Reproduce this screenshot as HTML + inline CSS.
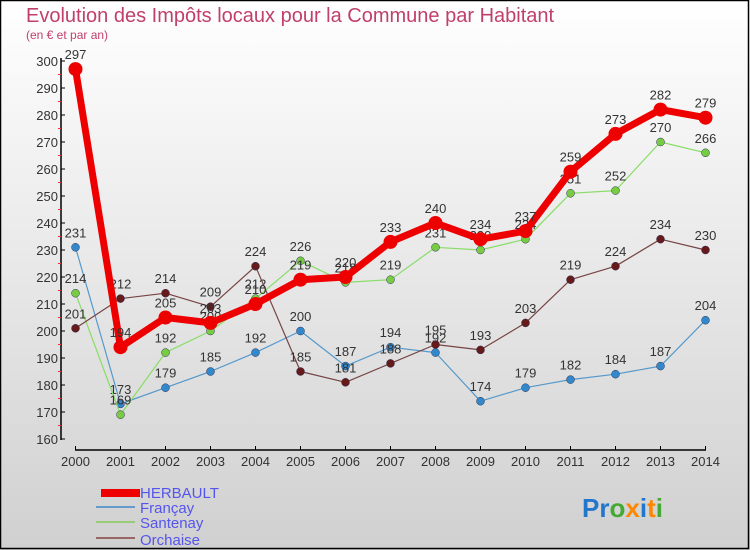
<!DOCTYPE html>
<html><head><meta charset="utf-8"><style>
body{margin:0}
#c{width:750px;height:550px;position:relative;overflow:hidden;background:linear-gradient(#ffffff,#d0d0d0);font-family:"Liberation Sans",sans-serif}
svg{position:absolute;left:0;top:0}
</style></head><body>
<div id="c">
<svg id="s" width="750" height="550">
<rect x="0.5" y="0.5" width="748" height="548" fill="none" stroke="#000" stroke-width="1.5"/>
<text x="26" y="22" font-size="20" fill="#c0406a">Evolution des Impôts locaux pour la Commune par Habitant</text>
<text x="26" y="39" font-size="12" fill="#c0406a">(en € et par an)</text>
<g id="axes"></g><g id="series"></g>
<g>
<rect x="101" y="489" width="39" height="8" fill="#ee0000"/>
<text x="140" y="498" font-size="15" fill="#5555ee">HERBAULT</text>
<line x1="96" y1="507" x2="135" y2="507" stroke="#6699cc" stroke-width="2"/>
<text x="140" y="513" font-size="15" fill="#5555ee">Françay</text>
<line x1="96" y1="522" x2="135" y2="522" stroke="#99cc77" stroke-width="2"/>
<text x="140" y="528" font-size="15" fill="#5555ee">Santenay</text>
<line x1="96" y1="538" x2="135" y2="538" stroke="#996666" stroke-width="2"/>
<text x="140" y="545" font-size="15" fill="#5555ee">Orchaise</text>
</g>
<g font-size="26" font-weight="bold">
<text x="582" y="517"><tspan fill="#2277cc">Pr</tspan><tspan fill="#44aa33">o</tspan><tspan fill="#ff8800">x</tspan><tspan fill="#2277cc">i</tspan><tspan fill="#ff8800">t</tspan><tspan fill="#44aa33">i</tspan></text>
</g>
</svg></div>
<script>
const years=["2000","2001","2002","2003","2004","2005","2006","2007","2008","2009","2010","2011","2012","2013","2014"];
const herbault=[297,194,205,203,210,219,220,233,240,234,237,259,273,282,279];
const francay=[231,173,179,185,192,200,187,194,192,174,179,182,184,187,204];
const santenay=[214,169,192,200,212,226,218,219,231,230,234,251,252,270,266];
const orchaise=[201,212,214,209,224,185,181,188,195,193,203,219,224,234,230];
const yTicks=[160,170,180,190,200,210,220,230,240,250,260,270,280,290,300];
const X=i=>75.5+i*45.0, Y=v=>61+(300-v)*2.7;
const NS="http://www.w3.org/2000/svg";
function mk(p,t,a){const e=document.createElementNS(NS,t);for(const k in a)e.setAttribute(k,a[k]);p.appendChild(e);return e;}
const ax=document.getElementById('axes');
let l=mk(ax,'line',{x1:61,y1:58,x2:61,y2:440,stroke:'#000','stroke-width':1.5});


l=mk(ax,'line',{x1:75,y1:450,x2:706,y2:450,stroke:'#000','stroke-width':1.5});


yTicks.forEach((v,i)=>{
 mk(ax,'line',{x1:61,y1:Y(v),x2:65,y2:Y(v),stroke:'#000'});
 if(i<yTicks.length-1)mk(ax,'line',{x1:58,y1:Y(v+5),x2:61,y2:Y(v+5),stroke:'#e33'});
 const t=mk(ax,'text',{x:58,y:Y(v)+5,'font-size':13,fill:'#333','text-anchor':'end'});t.textContent=v;
 
 
});
years.forEach((y,i)=>{
 mk(ax,'line',{x1:X(i),y1:446,x2:X(i),y2:450,stroke:'#000'});
 const t=mk(ax,'text',{x:X(i),y:466,'font-size':13,fill:'#333','text-anchor':'middle'});t.textContent=y;
 
 
});
const sg=document.getElementById('series');
function draw(name,data,color,dot,w,r){
 const g=mk(sg,'g',{});
 
 
 mk(g,'polyline',{points:data.map((v,i)=>X(i)+','+Y(v)).join(' '),fill:'none',stroke:color,'stroke-width':w,'stroke-linejoin':'round'});
 data.forEach((v,i)=>{
  const c=mk(g,'circle',{cx:X(i),cy:Y(v),r:r,fill:dot,stroke:dot==='#ee0000'?'none':'#335','stroke-width':0.5});
  
  
  const t=mk(g,'text',{x:X(i),y:Y(v)-10,'font-size':13,fill:'#333','text-anchor':'middle'});t.textContent=v;
  
  
 });
}
draw('francay',francay,'#5599cc','#3388cc',1.2,4);
draw('santenay',santenay,'#88dd66','#77cc44',1.2,4);
draw('orchaise',orchaise,'#774444','#661a1a',1.2,4);
draw('herbault',herbault,'#ee0000','#ee0000',7,7);
</script>
</body></html>
